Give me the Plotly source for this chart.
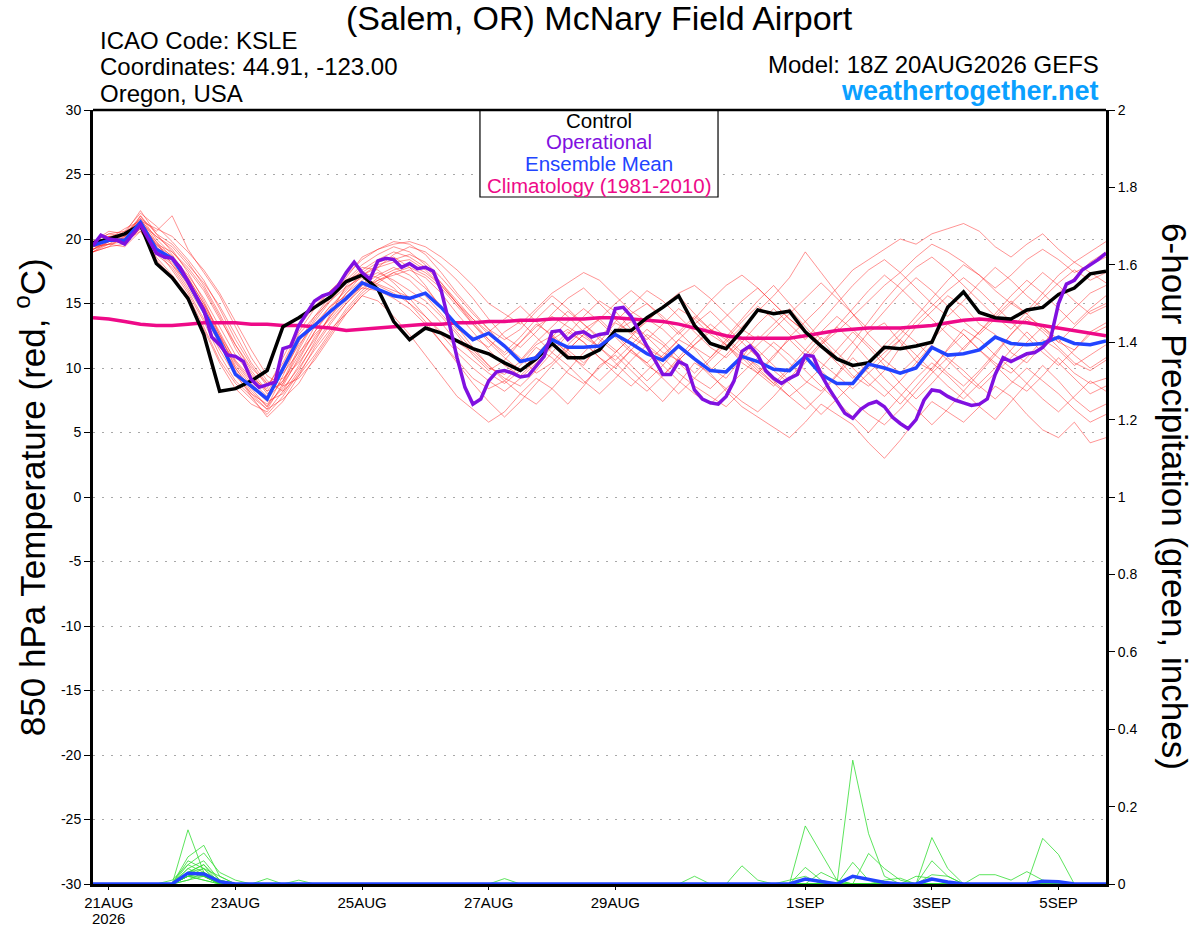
import pandas as pd
import plotly.graph_objects as go

# GEFS run 18Z 20AUG2026, 6-hourly steps out to 18Z 05SEP2026
times = pd.date_range("2026-08-20 18:00", periods=65, freq="6h")
# operational GFS is 3-hourly
op_times = pd.date_range("2026-08-20 18:00", periods=129, freq="3h")

control_temp = [19.7, 20.0, 20.4, 21.1, 18.1, 17.0, 15.4, 12.6, 8.2, 8.4,
                9.0, 9.8, 13.2, 13.9, 14.7, 15.5, 16.7, 17.2, 16.1, 13.6,
                12.2, 13.1, 12.7, 12.1, 11.5, 11.1, 10.4, 9.8, 10.7, 11.9,
                10.8, 10.8, 11.4, 12.9, 12.9, 13.9, 14.7, 15.6, 13.3, 11.9,
                11.5, 12.9, 14.5, 14.2, 14.4, 12.8, 11.7, 10.7, 10.2, 10.4,
                11.6, 11.5, 11.7, 12.0, 14.7, 15.9, 14.3, 13.9, 13.8, 14.5,
                14.7, 15.7, 16.2, 17.3, 17.5]

mean_temp = [19.5, 19.9, 19.9, 21.3, 19.2, 18.5, 16.7, 14.4, 12.1, 9.5,
             8.6, 7.6, 10.0, 12.3, 13.3, 14.4, 15.4, 16.6, 16.1, 15.6,
             15.4, 15.8, 14.7, 13.3, 12.2, 12.7, 11.7, 10.5, 10.8, 12.2,
             11.6, 11.6, 11.7, 12.6, 11.9, 11.1, 10.6, 11.7, 10.7, 9.8,
             9.7, 10.9, 10.5, 9.9, 9.8, 10.9, 9.5, 8.8, 8.8, 10.3,
             10.0, 9.6, 10.0, 11.6, 11.0, 11.1, 11.4, 12.4, 11.9, 11.8,
             11.9, 12.4, 11.9, 11.8, 12.1]

clim_temp = [13.9, 13.8, 13.6, 13.4, 13.3, 13.3, 13.4, 13.5, 13.5, 13.5,
             13.4, 13.4, 13.3, 13.3, 13.2, 13.1, 12.9, 13.0, 13.1, 13.2,
             13.3, 13.4, 13.4, 13.5, 13.5, 13.6, 13.6, 13.7, 13.7, 13.8,
             13.8, 13.8, 13.9, 13.9, 13.8, 13.7, 13.6, 13.4, 13.1, 12.8,
             12.5, 12.3, 12.3, 12.3, 12.3, 12.5, 12.7, 12.9, 13.0, 13.1,
             13.1, 13.1, 13.2, 13.3, 13.5, 13.7, 13.8, 13.7, 13.6, 13.5,
             13.3, 13.1, 12.9, 12.7, 12.5]

oper_temp = [19.5, 20.3, 20.0, 19.9, 19.6, 20.4, 21.1, 20.0, 18.9, 18.6,
             18.5, 17.8, 16.7, 15.6, 14.5, 12.4, 11.8, 11.0, 10.9, 10.5,
             9.1, 8.5, 8.7, 8.9, 11.5, 11.7, 13.3, 14.3, 15.2, 15.6,
             15.8, 16.4, 17.4, 18.2, 17.4, 16.9, 18.3, 18.5, 18.4, 17.8,
             18.1, 17.7, 17.8, 17.5, 16.0, 13.5, 10.8, 8.5, 7.2, 7.6,
             9.0, 9.7, 9.8, 9.6, 9.3, 9.4, 10.2, 10.9, 12.8, 12.9,
             12.2, 12.7, 12.8, 12.4, 12.6, 12.7, 14.6, 14.7, 14.0, 12.8,
             11.7, 10.6, 9.5, 9.5, 10.5, 10.2, 8.3, 7.6, 7.3, 7.2,
             7.8, 9.0, 11.3, 11.7, 11.0, 9.8, 9.2, 8.8, 9.2, 9.5,
             11.0, 10.9, 9.5, 8.4, 7.5, 6.5, 6.1, 6.8, 7.2, 7.4,
             7.0, 6.2, 5.7, 5.3, 6.0, 7.5, 8.3, 8.2, 7.8, 7.5,
             7.3, 7.1, 7.2, 7.6, 9.5, 10.8, 10.5, 10.8, 11.1, 11.2,
             11.6, 12.3, 15.0, 16.5, 16.8, 17.6, 18.0, 18.4, 18.9]

# ensemble members (850 hPa temperature, C)
member_temps = [
    [19.2, 19.8, 20.1, 21.5, 19.5, 18.7, 17.0, 15.0, 12.8, 10.5, 9.0, 7.8, 10.2, 12.6, 14.0, 15.2, 16.3, 17.0, 16.5, 16.0,
     15.5, 14.8, 13.5, 12.0, 11.2, 10.0, 9.5, 10.5, 11.8, 12.5, 11.0, 10.2, 12.0, 13.5, 12.8, 11.5, 10.8, 12.2, 11.5, 10.0,
     9.2, 10.8, 12.5, 11.6, 10.4, 9.0, 8.2, 9.5, 11.2, 12.8, 13.5, 12.0, 10.5, 9.8, 11.5, 13.0, 12.2, 11.0, 12.6, 14.0,
     13.2, 12.0, 11.4, 12.8, 13.5],
    [19.6, 20.2, 19.8, 21.8, 20.4, 19.0, 17.8, 16.2, 14.0, 11.5, 9.6, 8.0, 9.0, 11.0, 13.2, 14.8, 16.0, 17.4, 18.2, 18.6,
     17.8, 16.4, 14.6, 13.0, 12.4, 11.6, 12.8, 13.6, 12.4, 11.2, 12.6, 14.0, 15.2, 14.4, 13.0, 12.2, 13.4, 14.6, 13.8, 12.6,
     11.8, 10.4, 9.6, 10.8, 12.4, 13.6, 12.2, 10.8, 9.4, 8.6, 9.8, 11.6, 13.2, 14.4, 15.6, 14.8, 13.4, 12.6, 11.2, 10.4,
     11.8, 13.4, 14.6, 15.8, 16.4],
    [19.0, 19.4, 19.6, 20.8, 18.6, 17.2, 15.6, 13.2, 10.6, 8.8, 7.6, 6.4, 7.8, 9.6, 11.4, 13.0, 14.2, 15.6, 15.2, 14.0,
     12.6, 11.0, 9.4, 7.8, 6.8, 5.8, 6.6, 8.0, 9.2, 8.4, 7.2, 8.6, 10.2, 11.0, 9.8, 8.6, 7.4, 8.8, 10.4, 9.6,
     8.2, 7.0, 6.2, 5.4, 4.6, 5.8, 7.2, 6.4, 5.6, 4.2, 3.0, 4.4, 6.0, 7.4, 6.6, 5.8, 7.0, 8.6, 7.8, 6.4,
     5.2, 4.6, 5.8, 4.2, 4.6],
    [19.8, 20.4, 20.6, 22.0, 21.0, 19.8, 18.4, 16.8, 14.6, 12.2, 10.2, 8.6, 10.4, 12.8, 14.6, 16.0, 17.2, 18.4, 19.2, 19.6,
     19.8, 19.4, 18.6, 17.6, 16.4, 15.0, 14.2, 13.4, 14.6, 15.8, 16.6, 17.4, 16.8, 15.6, 14.4, 13.6, 14.8, 15.6, 14.2, 13.0,
     12.4, 13.8, 15.2, 16.4, 15.0, 13.6, 14.8, 16.2, 17.6, 18.4, 19.2, 20.0, 19.6, 20.4, 20.8, 21.2, 20.6, 19.4, 18.6, 19.6,
     20.4, 19.2, 18.2, 19.0, 19.8],
    [19.4, 19.6, 20.0, 21.2, 19.0, 18.2, 16.4, 14.4, 12.0, 10.0, 8.4, 7.0, 8.6, 10.8, 12.8, 14.4, 15.8, 16.8, 17.4, 16.8,
     16.0, 15.2, 14.0, 12.6, 11.0, 9.8, 10.6, 12.0, 13.2, 14.0, 13.2, 12.4, 11.6, 12.8, 14.2, 15.0, 14.0, 12.8, 11.6, 10.8,
     12.0, 13.2, 14.4, 15.6, 17.0, 19.0, 17.4, 15.8, 14.2, 12.6, 11.4, 12.6, 14.0, 15.4, 16.8, 18.0, 17.2, 16.0, 15.0, 14.2,
     15.4, 16.6, 17.6, 16.8, 17.4],
    [19.0, 19.8, 20.2, 21.0, 19.8, 18.6, 17.2, 15.4, 13.2, 11.0, 9.4, 8.2, 9.8, 11.8, 13.4, 14.8, 15.6, 16.2, 16.8, 17.2,
     17.6, 17.0, 15.8, 14.2, 12.8, 11.4, 10.2, 9.4, 10.6, 12.2, 13.0, 12.0, 10.8, 10.0, 11.4, 12.6, 11.8, 10.4, 9.2, 8.4,
     9.6, 11.0, 10.2, 9.0, 7.8, 6.8, 8.0, 9.4, 10.8, 9.6, 8.4, 7.2, 8.6, 10.0, 11.4, 12.6, 11.4, 10.2, 9.0, 8.2,
     9.4, 10.8, 9.6, 8.8, 9.2],
    [19.8, 20.0, 20.8, 21.4, 20.2, 19.4, 18.0, 16.6, 14.8, 12.6, 10.4, 8.8, 9.6, 11.2, 12.6, 13.8, 15.2, 16.4, 17.8, 18.8,
     19.4, 19.0, 18.0, 16.8, 15.4, 13.8, 12.4, 11.6, 12.8, 14.2, 15.4, 16.2, 15.0, 13.8, 12.6, 13.6, 14.8, 15.8, 16.4, 15.4,
     14.2, 13.0, 12.2, 13.4, 14.6, 13.2, 11.8, 10.6, 12.0, 13.6, 15.2, 16.6, 17.8, 18.6, 17.6, 16.4, 15.2, 14.0, 13.0, 14.4,
     15.8, 17.2, 18.2, 17.4, 16.6],
    [19.2, 19.6, 19.4, 20.6, 18.8, 17.8, 16.0, 13.8, 11.4, 9.4, 8.0, 7.2, 8.4, 10.0, 11.8, 13.6, 15.0, 16.2, 16.0, 15.4,
     14.6, 13.4, 12.0, 10.6, 9.2, 8.4, 9.0, 10.2, 11.6, 10.8, 9.6, 8.8, 10.0, 11.2, 12.4, 11.6, 10.2, 9.0, 8.0, 7.2,
     8.4, 9.6, 10.8, 12.0, 11.0, 9.8, 8.6, 7.4, 6.2, 5.0, 6.4, 7.8, 9.2, 10.4, 9.4, 8.2, 7.0, 6.0, 7.4, 8.8,
     10.2, 9.0, 7.6, 6.6, 7.2],
    [19.6, 20.0, 20.4, 21.6, 20.6, 21.8, 19.2, 17.4, 15.6, 13.2, 10.8, 9.0, 8.2, 9.4, 11.0, 12.8, 14.6, 16.0, 17.0, 17.6,
     18.0, 17.4, 16.4, 15.0, 13.6, 12.2, 11.0, 12.0, 13.4, 12.6, 11.4, 10.4, 11.6, 12.8, 13.6, 12.4, 11.2, 10.6, 11.8, 13.0,
     12.2, 11.0, 9.8, 8.8, 10.0, 11.4, 12.8, 14.0, 13.0, 11.8, 10.6, 9.6, 10.8, 12.2, 13.4, 12.6, 11.4, 10.4, 9.6, 10.8,
     12.2, 11.4, 10.2, 11.0, 11.8],
    [19.4, 20.2, 20.0, 21.2, 19.4, 18.4, 16.6, 14.8, 12.4, 10.2, 8.6, 7.4, 8.0, 9.8, 12.0, 14.2, 16.4, 17.6, 18.4, 19.0,
     18.6, 17.8, 16.6, 15.2, 13.8, 12.6, 11.8, 10.8, 9.6, 10.4, 11.8, 13.0, 13.8, 12.6, 11.4, 10.2, 9.4, 10.6, 11.8, 12.8,
     14.0, 15.2, 16.2, 15.0, 13.8, 12.8, 11.6, 10.4, 9.2, 10.4, 11.8, 13.0, 12.0, 10.8, 9.6, 8.6, 9.8, 11.2, 12.6, 13.8,
     12.8, 11.6, 10.4, 9.8, 10.6],
    [19.0, 19.4, 20.2, 21.8, 20.0, 18.8, 17.0, 15.0, 12.6, 10.6, 9.2, 8.4, 10.8, 13.2, 14.8, 16.0, 16.8, 17.4, 17.0, 16.2,
     15.0, 13.6, 12.0, 10.4, 8.8, 7.4, 6.2, 7.4, 8.8, 10.2, 11.4, 12.6, 11.6, 10.4, 9.2, 8.2, 9.4, 10.8, 12.2, 13.4,
     12.4, 11.2, 10.0, 8.8, 7.8, 8.8, 10.0, 11.4, 12.8, 11.6, 10.2, 8.8, 7.6, 8.8, 10.2, 11.6, 12.8, 14.0, 15.2, 14.2,
     13.0, 12.0, 13.2, 14.4, 15.0],
    [19.6, 19.8, 20.6, 21.0, 19.6, 19.0, 17.6, 16.0, 13.8, 11.8, 10.0, 8.8, 9.2, 10.4, 12.2, 14.0, 15.8, 17.2, 18.0, 18.4,
     18.8, 18.2, 17.0, 15.6, 14.2, 13.0, 12.2, 13.0, 14.4, 15.6, 14.6, 13.4, 12.4, 13.6, 14.8, 16.0, 15.2, 14.0, 12.8, 11.6,
     10.8, 12.0, 13.4, 14.6, 13.4, 12.2, 13.6, 15.0, 16.4, 17.6, 18.4, 17.4, 16.2, 15.0, 14.0, 15.2, 16.6, 17.8, 16.8, 15.6,
     14.6, 15.8, 17.0, 18.2, 19.0],
    [19.2, 20.0, 19.6, 20.8, 19.2, 17.6, 15.8, 13.6, 11.0, 9.0, 7.8, 6.8, 8.8, 11.4, 13.6, 15.2, 16.6, 17.8, 17.6, 16.6,
     15.4, 14.0, 12.6, 11.2, 10.0, 9.0, 8.2, 9.2, 10.4, 11.6, 12.8, 12.0, 10.8, 9.6, 8.6, 9.8, 11.0, 12.2, 13.4, 14.4,
     13.2, 12.0, 10.8, 9.8, 8.8, 7.6, 6.4, 7.6, 8.8, 10.0, 11.2, 12.2, 11.0, 9.8, 8.6, 7.6, 8.8, 10.0, 11.4, 12.8,
     11.6, 10.4, 9.2, 8.0, 8.6],
    [19.8, 20.4, 20.2, 21.4, 20.8, 20.2, 19.0, 17.6, 15.8, 13.6, 11.4, 9.4, 8.6, 9.2, 10.6, 12.4, 14.2, 15.6, 16.6, 17.4,
     17.8, 17.2, 16.2, 14.8, 13.4, 12.0, 10.8, 9.8, 11.0, 12.4, 13.6, 14.6, 13.6, 12.4, 11.2, 10.4, 11.6, 12.8, 14.0, 13.0,
     11.8, 10.6, 11.8, 13.0, 14.2, 15.4, 16.6, 15.4, 14.2, 13.0, 14.4, 15.8, 17.0, 16.0, 14.8, 13.6, 12.6, 13.8, 15.0, 16.2,
     17.4, 16.4, 15.2, 14.2, 14.8],
    [19.4, 19.6, 20.4, 21.6, 19.8, 18.0, 16.2, 14.2, 11.8, 9.6, 7.8, 6.2, 7.4, 9.4, 11.6, 13.4, 15.0, 16.4, 17.2, 17.8,
     17.2, 16.2, 14.8, 13.2, 11.6, 10.2, 9.0, 8.0, 7.2, 8.4, 9.8, 11.2, 12.4, 11.4, 10.2, 9.0, 10.2, 11.6, 10.6, 9.4,
     8.4, 7.4, 6.6, 7.8, 9.2, 10.6, 12.0, 13.2, 12.0, 10.6, 9.2, 8.0, 6.8, 5.6, 6.8, 8.2, 9.6, 11.0, 10.0, 8.8,
     7.6, 6.6, 7.8, 9.0, 8.2],
    [19.6, 20.0, 19.8, 21.2, 20.2, 19.2, 17.4, 15.2, 12.6, 10.0, 8.2, 7.0, 9.4, 12.0, 14.0, 15.6, 16.8, 18.0, 18.8, 19.4,
     19.0, 18.0, 16.6, 15.0, 13.4, 12.2, 11.2, 12.4, 13.8, 15.0, 14.0, 12.8, 11.6, 10.6, 11.8, 13.0, 12.0, 10.8, 9.6, 10.8,
     12.2, 13.6, 14.8, 13.8, 12.6, 11.4, 10.4, 9.4, 8.4, 9.6, 10.8, 12.2, 13.6, 14.8, 16.0, 17.0, 16.0, 14.8, 13.6, 12.4,
     11.2, 10.2, 11.4, 12.6, 13.2],
    [19.2, 19.8, 20.0, 21.0, 18.4, 17.0, 15.2, 13.0, 10.4, 8.4, 7.2, 6.6, 8.2, 10.2, 12.4, 14.0, 15.4, 16.6, 16.4, 15.8,
     15.0, 14.0, 12.8, 11.6, 10.6, 9.6, 8.8, 9.8, 11.0, 12.2, 11.2, 10.0, 9.0, 10.2, 11.4, 10.4, 9.2, 8.0, 9.2, 10.6,
     11.8, 10.8, 9.6, 8.6, 9.8, 11.0, 12.4, 11.2, 10.0, 8.8, 7.8, 9.0, 10.4, 11.8, 10.6, 9.4, 8.4, 9.6, 10.8, 12.0,
     13.2, 12.2, 11.0, 10.0, 10.8],
    [19.8, 20.6, 20.4, 22.2, 20.4, 19.6, 18.2, 16.4, 14.2, 11.8, 9.8, 8.2, 8.8, 10.6, 12.8, 14.6, 16.2, 17.2, 17.8, 18.2,
     18.4, 17.6, 16.4, 15.0, 13.8, 12.8, 13.8, 14.8, 13.6, 12.4, 11.4, 12.6, 13.8, 15.0, 16.0, 15.0, 13.8, 12.6, 13.8, 15.2,
     16.4, 17.2, 16.2, 15.0, 13.8, 12.8, 11.8, 12.8, 14.0, 15.2, 16.4, 17.4, 18.6, 19.6, 19.0, 18.2, 17.2, 16.2, 17.2, 18.4,
     19.2, 18.4, 17.4, 18.0, 18.6],
    [19.0, 19.6, 19.8, 20.6, 19.0, 18.0, 16.6, 14.6, 12.2, 9.8, 8.0, 6.8, 7.6, 8.8, 10.8, 12.6, 14.4, 15.8, 16.8, 17.4,
     16.8, 15.6, 14.2, 12.8, 11.4, 10.2, 9.2, 8.6, 9.8, 11.2, 10.2, 9.0, 8.0, 9.2, 10.6, 11.8, 10.8, 9.6, 8.6, 7.8,
     7.0, 8.2, 9.6, 11.0, 12.2, 11.0, 9.8, 8.6, 7.4, 6.4, 5.6, 6.8, 8.2, 9.6, 10.8, 9.8, 8.6, 7.6, 8.8, 10.0,
     9.0, 8.0, 6.8, 5.8, 6.4],
    [19.6, 20.2, 20.4, 21.4, 19.6, 18.4, 16.8, 14.8, 12.4, 10.4, 8.8, 7.6, 9.0, 11.6, 13.8, 15.4, 17.0, 18.6, 19.2, 19.8,
     19.6, 18.8, 17.4, 15.8, 14.4, 13.0, 11.6, 10.6, 12.0, 13.2, 14.4, 13.4, 12.2, 11.2, 12.4, 13.8, 13.0, 11.8, 10.6, 9.8,
     11.0, 12.4, 11.4, 10.2, 9.0, 10.4, 11.8, 13.2, 14.6, 16.0, 17.2, 16.2, 15.0, 13.8, 12.6, 11.4, 12.8, 14.2, 15.6, 16.8,
     15.8, 14.6, 13.4, 14.6, 15.6],
]

# 6-hour precipitation (inches), listed as (step, amount); all other steps are 0
member_precip_events = [
    [(6, 0.14), (7, 0.03), (8, 0.01)],
    [(6, 0.07), (7, 0.10), (8, 0.02)],
    [(6, 0.05), (7, 0.08), (8, 0.03), (9, 0.01)],
    [(6, 0.04), (7, 0.06), (8, 0.01), (45, 0.15), (46, 0.08), (47, 0.01)],
    [(6, 0.03), (7, 0.05), (48, 0.32), (49, 0.13), (50, 0.02)],
    [(6, 0.06), (7, 0.04), (8, 0.02), (53, 0.12), (54, 0.04)],
    [(6, 0.02), (7, 0.03), (45, 0.043), (46, 0.01), (60, 0.118), (61, 0.076)],
    [(6, 0.03), (7, 0.02), (11, 0.014), (48, 0.056), (49, 0.01)],
    [(6, 0.02), (7, 0.04), (49, 0.079), (50, 0.04), (51, 0.01)],
    [(5, 0.01), (6, 0.05), (7, 0.03), (53, 0.06), (54, 0.02)],
    [(6, 0.04), (7, 0.02), (26, 0.014)],
    [(6, 0.03), (7, 0.05), (8, 0.01), (41, 0.047), (42, 0.01)],
    [(6, 0.02), (7, 0.02), (38, 0.02), (46, 0.03), (47, 0.01)],
    [(6, 0.03), (7, 0.04), (53, 0.024), (54, 0.02)],
    [(6, 0.01), (7, 0.03), (56, 0.024), (57, 0.024), (58, 0.01), (59, 0.032), (60, 0.01)],
    [(6, 0.02), (7, 0.01), (50, 0.01), (51, 0.015)],
    [(6, 0.03), (7, 0.02)],
    [(6, 0.02), (7, 0.03), (52, 0.02), (53, 0.015)],
    [(6, 0.01), (7, 0.02), (13, 0.01)],
    [(6, 0.02), (7, 0.01), (44, 0.01), (45, 0.02)],
]
mean_precip_events = [(6, 0.028), (7, 0.026), (8, 0.006), (45, 0.013), (46, 0.006),
                      (48, 0.02), (49, 0.012), (50, 0.004), (53, 0.013), (54, 0.005),
                      (60, 0.007), (61, 0.006)]

tick_dates = ["2026-08-21", "2026-08-23", "2026-08-25", "2026-08-27",
              "2026-08-29", "2026-09-01", "2026-09-03", "2026-09-05"]
tick_labels = ["21AUG", "23AUG", "25AUG", "27AUG",
               "29AUG", "1SEP", "3SEP", "5SEP"]
temp_ticks = [30, 25, 20, 15, 10, 5, 0, -5, -10, -15, -20, -25, -30]


def expand(events):
    vals = [0.0] * len(times)
    for i, v in events:
        vals[i] = v
    return vals


FONT = "Liberation Sans, Arial, Helvetica, sans-serif"

fig = go.Figure()

for m in member_temps:
    fig.add_trace(go.Scatter(x=times, y=m, mode="lines",
                             line=dict(color="rgba(255,30,30,0.6)", width=0.8),
                             hoverinfo="skip"))

fig.add_trace(go.Scatter(x=times, y=clim_temp, mode="lines", name="Climatology (1981-2010)",
                         line=dict(color="#ee0a88", width=3.5)))
fig.add_trace(go.Scatter(x=times, y=control_temp, mode="lines", name="Control",
                         line=dict(color="black", width=3.5)))
fig.add_trace(go.Scatter(x=times, y=mean_temp, mode="lines", name="Ensemble Mean",
                         line=dict(color="#2244ff", width=3.5)))
fig.add_trace(go.Scatter(x=op_times, y=oper_temp, mode="lines", name="Operational",
                         line=dict(color="#8010e0", width=3.5)))

for ev in member_precip_events:
    fig.add_trace(go.Scatter(x=times, y=expand(ev), mode="lines", yaxis="y2",
                             line=dict(color="#33dd33", width=0.8),
                             hoverinfo="skip"))
fig.add_trace(go.Scatter(x=times, y=expand(mean_precip_events), mode="lines", yaxis="y2",
                         line=dict(color="#2244ff", width=3.5)))

# plot area in pixels: x 93..1106, y 110..884
annots = [
    dict(text="(Salem, OR) McNary Field Airport", x=0.5, y=1.119, xanchor="center",
         font=dict(size=34)),
    dict(text="ICAO Code: KSLE", x=0.005, y=1.090, xanchor="left", font=dict(size=24)),
    dict(text="Coordinates: 44.91, -123.00", x=0.005, y=1.056, xanchor="left", font=dict(size=24)),
    dict(text="Oregon, USA", x=0.005, y=1.021, xanchor="left", font=dict(size=24)),
    dict(text="Model: 18Z 20AUG2026 GEFS", x=0.9955, y=1.059, xanchor="right", font=dict(size=24)),
    dict(text="<b>weathertogether.net</b>", x=0.9955, y=1.025, xanchor="right",
         font=dict(size=27, color="#0aa0ff")),
    dict(text="Control", x=0.4995, y=0.9858, xanchor="center", font=dict(size=20.5, color="black")),
    dict(text="Operational", x=0.4995, y=0.9587, xanchor="center", font=dict(size=20.5, color="#8010e0")),
    dict(text="Ensemble Mean", x=0.4995, y=0.9315, xanchor="center", font=dict(size=20.5, color="#2244ff")),
    dict(text="Climatology (1981-2010)", x=0.4995, y=0.9031, xanchor="center",
         font=dict(size=20.5, color="#ee0a88")),
    dict(text="850 hPa Temperature (red, <sup>o</sup>C)", x=-0.062, y=0.5, textangle=-90,
         xanchor="center", font=dict(size=35)),
    dict(text="6-hour Precipitation (green, inches)", x=1.068, y=0.5, textangle=90,
         xanchor="center", font=dict(size=35)),
]
for a in annots:
    a.update(xref="paper", yref="paper", showarrow=False, yanchor="middle")
# year under the first date tick
annots.append(dict(text="2026", xref="x", yref="paper", x=tick_dates[0], y=-0.045,
                   showarrow=False, xanchor="center", yanchor="middle", font=dict(size=15)))

fig.update_layout(
    width=1200, height=927,
    margin=dict(l=93, r=94, t=110, b=43),
    paper_bgcolor="white", plot_bgcolor="white",
    font=dict(family=FONT, color="black", size=14),
    showlegend=False,
    annotations=annots,
    shapes=[
        dict(type="rect", xref="paper", yref="paper", x0=0.382, x1=0.617, y0=0.8876, y1=1.0,
             line=dict(color="black", width=1.2), fillcolor="white", layer="above"),
        dict(type="line", xref="paper", yref="paper", x0=0, x1=1, y0=1, y1=1,
             line=dict(color="black", width=2.5), layer="above"),
    ],
    xaxis=dict(
        range=[times[0], times[-1]], automargin=False,
        tickvals=pd.to_datetime(tick_dates), ticktext=tick_labels,
        ticks="outside", ticklen=3, tickwidth=1.2, tickcolor="black",
        showline=True, linecolor="black", linewidth=3,
        showgrid=False, zeroline=False,
        tickfont=dict(size=15),
    ),
    yaxis=dict(
        range=[-30, 30], automargin=False,
        tickvals=temp_ticks, ticktext=[str(t) for t in temp_ticks],
        ticks="outside", ticklen=6, tickwidth=1.2, tickcolor="black",
        showline=True, linecolor="black", linewidth=3,
        showgrid=True, gridcolor="#a8a8a8", griddash="2px,7px", gridwidth=1,
        zeroline=False, tickfont=dict(size=14),
    ),
    yaxis2=dict(
        range=[0, 2], dtick=0.2, overlaying="y", side="right", automargin=False,
        ticks="outside", ticklen=6, tickwidth=1.2, tickcolor="black",
        showline=True, linecolor="black", linewidth=3,
        showgrid=False, zeroline=False, tickfont=dict(size=14),
    ),
)

# drop the browser's default 8px body margin so the figure fills the window
fig.write_html("out.html", config={"displayModeBar": False},
               post_script="document.body.style.margin = '0';")
